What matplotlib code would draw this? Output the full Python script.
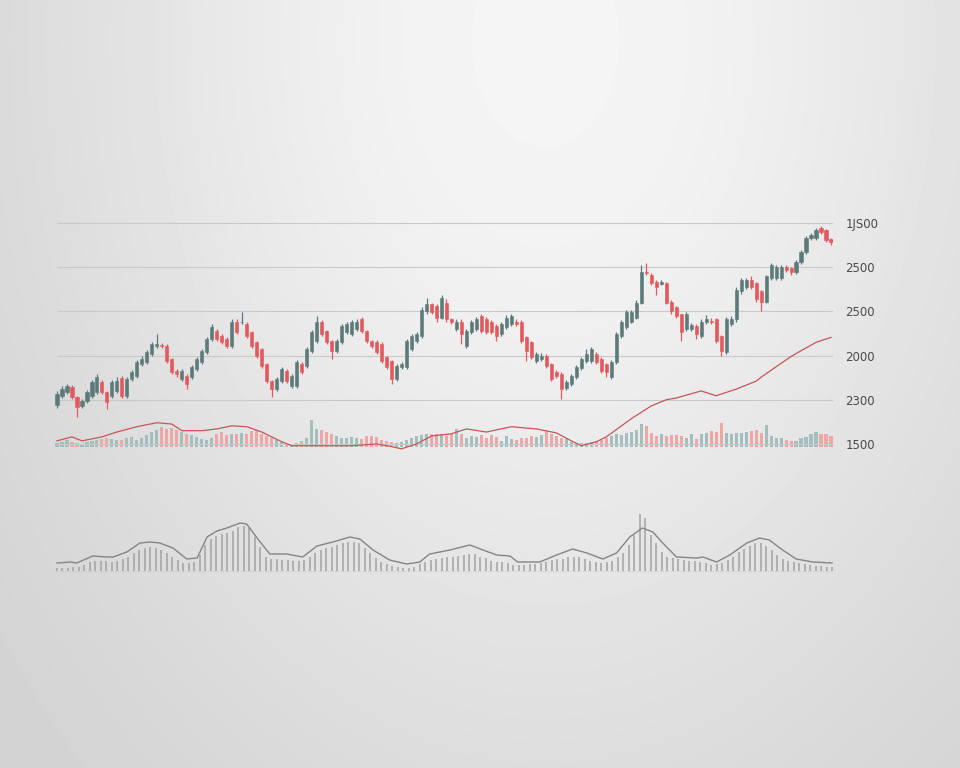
import numpy as np
import matplotlib
matplotlib.use("Agg")
import matplotlib.pyplot as plt

# ---- price candles (one entry per session) ----
opens = [1588, 1609, 1618, 1629, 1606, 1586, 1597, 1609, 1618, 1640,
         1618, 1609, 1620, 1649, 1609, 1647, 1654, 1681, 1685, 1703,
         1721, 1724, 1721, 1692, 1665, 1647, 1654, 1651, 1669, 1685,
         1708, 1737, 1755, 1744, 1737, 1721, 1777, 1775, 1771, 1753,
         1730, 1714, 1681, 1642, 1624, 1642, 1665, 1631, 1631, 1681,
         1676, 1710, 1732, 1775, 1755, 1732, 1710, 1730, 1753, 1748,
         1759, 1782, 1755, 1732, 1730, 1726, 1696, 1687, 1647, 1674,
         1674, 1714, 1732, 1744, 1800, 1816, 1811, 1786, 1820, 1782,
         1759, 1777, 1721, 1753, 1759, 1789, 1782, 1775, 1766, 1748,
         1764, 1771, 1777, 1775, 1741, 1730, 1687, 1692, 1698, 1681,
         1663, 1658, 1627, 1636, 1651, 1672, 1687, 1687, 1703, 1692,
         1681, 1651, 1685, 1744, 1764, 1777, 1786, 1820, 1890, 1883,
         1867, 1863, 1865, 1822, 1809, 1793, 1759, 1759, 1766, 1744,
         1775, 1779, 1782, 1744, 1708, 1771, 1782, 1845, 1856, 1872,
         1865, 1845, 1822, 1876, 1876, 1876, 1901, 1899, 1890, 1912,
         1935, 1966, 1966, 1989, 1984, 1964]
highs = [1620, 1631, 1636, 1634, 1609, 1602, 1622, 1645, 1658, 1645,
         1620, 1645, 1651, 1654, 1651, 1667, 1690, 1699, 1712, 1730,
         1748, 1728, 1726, 1694, 1669, 1669, 1658, 1678, 1696, 1714,
         1741, 1771, 1760, 1748, 1741, 1782, 1782, 1798, 1775, 1755,
         1732, 1717, 1683, 1645, 1651, 1674, 1669, 1658, 1690, 1685,
         1719, 1757, 1789, 1780, 1757, 1735, 1737, 1771, 1775, 1780,
         1782, 1787, 1757, 1735, 1735, 1730, 1699, 1690, 1681, 1685,
         1737, 1748, 1753, 1809, 1831, 1820, 1816, 1836, 1827, 1786,
         1782, 1782, 1759, 1780, 1787, 1793, 1787, 1780, 1771, 1775,
         1791, 1793, 1782, 1780, 1744, 1732, 1708, 1705, 1703, 1683,
         1667, 1663, 1645, 1658, 1678, 1696, 1714, 1719, 1708, 1696,
         1683, 1690, 1753, 1780, 1802, 1802, 1825, 1905, 1910, 1887,
         1870, 1870, 1867, 1825, 1811, 1795, 1798, 1773, 1771, 1782,
         1791, 1784, 1786, 1746, 1787, 1789, 1854, 1876, 1876, 1879,
         1867, 1849, 1883, 1910, 1905, 1905, 1905, 1901, 1917, 1939,
         1971, 1978, 1989, 1993, 1987, 1966]
lows = [1581, 1604, 1613, 1602, 1561, 1581, 1593, 1604, 1613, 1613,
        1579, 1604, 1616, 1604, 1604, 1642, 1649, 1676, 1681, 1699,
        1717, 1717, 1683, 1658, 1651, 1642, 1624, 1647, 1665, 1681,
        1703, 1732, 1732, 1726, 1717, 1717, 1748, 1771, 1739, 1717,
        1694, 1672, 1638, 1606, 1620, 1638, 1638, 1627, 1627, 1658,
        1672, 1705, 1728, 1744, 1726, 1692, 1705, 1726, 1748, 1744,
        1755, 1750, 1728, 1717, 1703, 1683, 1669, 1636, 1642, 1669,
        1669, 1710, 1728, 1739, 1795, 1793, 1775, 1782, 1777, 1771,
        1755, 1726, 1717, 1748, 1755, 1750, 1748, 1748, 1732, 1744,
        1759, 1766, 1766, 1728, 1687, 1692, 1683, 1687, 1672, 1642,
        1649, 1602, 1622, 1631, 1647, 1667, 1683, 1683, 1681, 1660,
        1651, 1647, 1681, 1739, 1759, 1773, 1782, 1816, 1883, 1860,
        1838, 1860, 1816, 1795, 1784, 1732, 1755, 1755, 1737, 1739,
        1771, 1771, 1728, 1698, 1703, 1766, 1777, 1840, 1851, 1851,
        1822, 1800, 1818, 1872, 1872, 1872, 1890, 1883, 1885, 1908,
        1930, 1962, 1962, 1975, 1957, 1950]
closes = [1613, 1624, 1631, 1606, 1584, 1597, 1618, 1640, 1651, 1618,
          1595, 1640, 1642, 1609, 1647, 1663, 1685, 1692, 1708, 1726,
          1726, 1721, 1687, 1663, 1658, 1665, 1636, 1674, 1692, 1710,
          1737, 1764, 1737, 1730, 1721, 1777, 1753, 1777, 1744, 1721,
          1698, 1676, 1642, 1624, 1647, 1669, 1642, 1654, 1685, 1663,
          1714, 1753, 1775, 1748, 1730, 1710, 1732, 1766, 1771, 1775,
          1777, 1755, 1732, 1721, 1708, 1687, 1674, 1647, 1676, 1681,
          1732, 1744, 1748, 1804, 1816, 1798, 1786, 1831, 1782, 1775,
          1777, 1748, 1755, 1775, 1782, 1755, 1753, 1753, 1744, 1771,
          1786, 1789, 1771, 1732, 1710, 1696, 1703, 1699, 1676, 1647,
          1654, 1624, 1640, 1654, 1674, 1692, 1703, 1714, 1685, 1665,
          1663, 1685, 1748, 1775, 1798, 1798, 1820, 1890, 1887, 1865,
          1856, 1866, 1820, 1800, 1789, 1753, 1793, 1768, 1748, 1777,
          1782, 1775, 1732, 1710, 1782, 1782, 1849, 1872, 1872, 1856,
          1827, 1822, 1879, 1905, 1901, 1901, 1894, 1890, 1912, 1935,
          1966, 1973, 1984, 1980, 1962, 1957]
volume = [40, 50, 67, 50, 40, 33, 50, 60, 73, 83,
          93, 83, 67, 67, 93, 100, 67, 93, 117, 150,
          173, 200, 183, 193, 173, 150, 133, 117, 100, 83,
          73, 93, 133, 150, 117, 133, 127, 140, 133, 160,
          167, 127, 107, 93, 67, 50, 27, 33, 40, 60,
          93, 267, 183, 167, 150, 127, 107, 93, 93, 100,
          93, 83, 107, 107, 100, 73, 60, 50, 40, 50,
          67, 93, 107, 117, 127, 133, 133, 133,
          110, 127, 177, 127, 87, 110, 100, 120, 93, 117,
          100, 60, 110, 77, 67, 93, 87, 110, 100, 120,
          160, 133, 110, 93, 77, 53, 43, 43, 43, 50,
          60, 67, 87, 110, 127, 120, 143, 153, 167, 227,
          210, 143, 110, 127, 110, 120, 120, 110, 93, 133,
          77, 133, 143, 160, 153, 243, 143, 133, 143, 143,
          153, 160, 167, 143, 217, 110, 93, 87, 67, 60,
          60, 87, 100, 133, 153, 127, 133, 110]

# moving average overlay (session index, price)
ma_idx = [0, 3, 5, 9, 12, 16, 20, 23, 25, 29, 32, 35, 38, 41, 45, 47, 52, 59,
          64, 67, 69, 72, 75, 79, 82, 86, 91, 96, 100, 103, 105, 108, 110,
          115, 119, 122, 124, 129, 132, 136, 140, 141, 147, 152, 155]
ma_val = [1507, 1516, 1507, 1516, 1527, 1539, 1548, 1545, 1530, 1530, 1534,
          1541, 1539, 1527, 1505, 1496, 1496, 1496, 1500, 1494, 1489, 1500,
          1518, 1523, 1534, 1527, 1539, 1534, 1525, 1507, 1496, 1505, 1516,
          1557, 1586, 1600, 1604, 1620, 1609, 1624, 1642, 1651, 1698, 1730,
          1741]

grid_levels = [1500, 1600, 1700, 1800, 1900, 2000]
grid_labels = ["1500", "2300", "2000", "2500", "2500", "1JS00"]

# ---- lower indicator panel ----
osc_bars = [7, 8, 9, 10, 12, 17, 27, 30, 29, 28,
            27, 30, 34, 42, 52, 62, 69, 70, 67, 62,
            52, 42, 32, 24, 22, 27, 47, 77, 94, 104,
            110, 114, 120, 130, 134, 127, 102, 72, 40, 34,
            34, 32, 32, 30, 29, 32, 40, 52, 62, 67,
            72, 77, 82, 86, 87, 82, 67, 52, 37, 27,
            20, 15, 12, 9, 9, 12, 20, 27, 32, 34,
            37, 40, 42, 44, 47, 50, 50, 42, 37, 30,
            27, 27, 24, 17, 17, 17, 19, 20, 22, 27,
            32, 34, 34, 40, 42, 40, 34, 30, 27, 24,
            27, 30, 40, 52, 77, 107, 170, 157, 107, 82,
            57, 42, 37, 34, 32, 30, 30, 27, 22, 17,
            20, 24, 32, 40, 57, 64, 74, 82, 82, 74,
            62, 47, 34, 30, 27, 22, 20, 17, 14, 14,
            12, 12]
osc_line_idx = [0, 2.4, 3.6, 6.5, 9.1, 10.2, 12.7, 15.1, 16.9, 18.7, 21.1,
                23.6, 25.5, 27.3, 29.1, 30.9, 33.3, 34.5, 36.4, 38.7, 41.8,
                44.7, 47.3, 50.2, 53.3, 55.1, 57.5, 60.5, 63.6, 66, 67.8,
                71.5, 75.1, 77.5, 80, 82.4, 83.8, 87.8, 90.9, 93.8, 96.4,
                99.3, 101.8, 104.2, 106.5, 108.4, 110.2, 112.7, 116.4, 117.5,
                120, 122.4, 125.5, 127.8, 129.6, 132, 134.5, 137.5, 141]
osc_line_val = [23, 26, 23, 44, 41, 41, 56, 83, 86, 83, 68,
                35, 38, 101, 119, 128, 143, 140, 98, 50, 50,
                41, 74, 86, 101, 95, 62, 32, 20, 26, 50,
                62, 77, 62, 47, 44, 26, 26, 47, 65, 53,
                35, 53, 101, 128, 116, 83, 41, 38, 41,
                26, 47, 83, 98, 92, 62, 35, 26, 23]

GREEN = "#5b7a79"
RED = "#e2585c"
VGREEN = "#a3bebd"
VRED = "#efa6a7"

W, H = 960, 768
fig = plt.figure(figsize=(9.6, 7.68), dpi=100)

# soft studio-style background, brightest near the top centre
bg = fig.add_axes([0, 0, 1, 1])
yy, xx = np.mgrid[0:H, 0:W]
glow = np.exp(-((xx - 545) ** 2 / (2 * 380.0 ** 2) + (yy - 40) ** 2 / (2 * 550.0 ** 2)))
bg.imshow(0.80 + 0.16 * glow, cmap="gray", vmin=0, vmax=1, aspect="auto",
          interpolation="bilinear")
bg.axis("off")

left, width = 55 / W, 778 / W
x = np.arange(len(closes))
o = np.array(opens)
c = np.array(closes)
up = c >= o

# volume strip under the candles
vax = fig.add_axes([left, 1 - 447 / H, width, 50 / H])
vax.bar(x, volume, width=0.62, color=np.where(up, VGREEN, VRED))
vax.set_xlim(-0.4, 155.4)
vax.set_ylim(0, 500)
vax.axis("off")

# price panel
ax = fig.add_axes([left, 1 - 455 / H, width, 240 / H])
ax.patch.set_alpha(0)
ax.hlines(grid_levels, 0, 155.4, color="#c9c9c9", linewidth=0.8, zorder=0)
col = np.where(up, GREEN, RED)
ax.vlines(x, lows, highs, colors=col, linewidth=0.9)
ax.bar(x, np.abs(c - o), bottom=np.minimum(o, c), width=0.62,
       color=col, edgecolor=col, linewidth=0.4)
ax.plot(ma_idx, ma_val, color="#c4565a", linewidth=0.9)
ax.set_xlim(-0.4, 155.4)
ax.set_ylim(1475, 2018)
ax.yaxis.tick_right()
ax.set_yticks(grid_levels, grid_labels)
ax.tick_params(axis="y", length=0, pad=9, labelsize=8.5, labelcolor="#4a4a4a")
ax.set_xticks([])
for s in ax.spines.values():
    s.set_visible(False)

# lower indicator panel
lax = fig.add_axes([left, 1 - 572 / H, width, 70 / H])
lax.patch.set_alpha(0)
xi = np.arange(len(osc_bars))
lax.vlines(xi, 0, osc_bars, colors="#a2a2a2", linewidth=1.1)
lax.axhline(0, color="#bdbdbd", linewidth=0.6, linestyle=(0, (1, 2)))
lax.plot(osc_line_idx, osc_line_val, color="#858585", linewidth=1.0)
lax.set_xlim(-0.364, 141.18)
lax.set_ylim(-4, 206)
lax.axis("off")

fig.savefig("out.png", dpi=100)
